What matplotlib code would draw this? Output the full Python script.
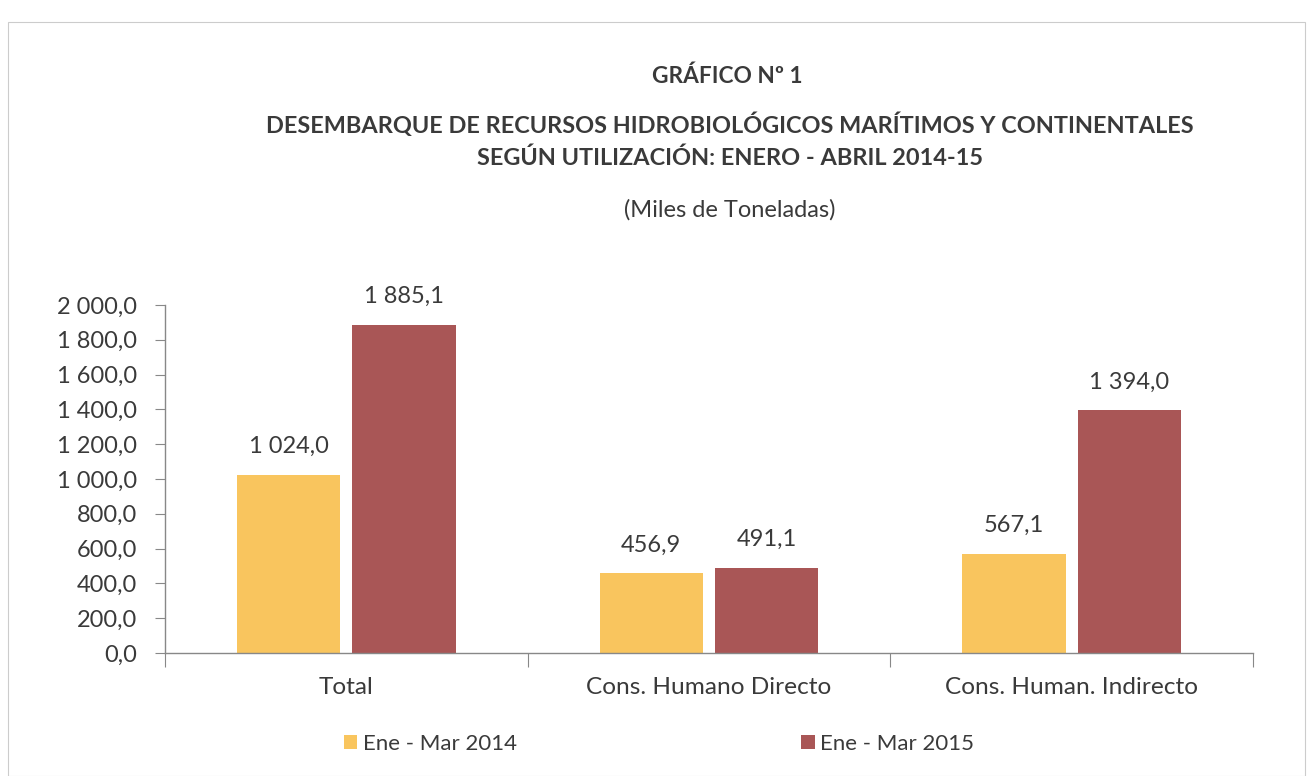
import matplotlib.pyplot as plt
from matplotlib.patches import Rectangle
import numpy as np

plt.rcParams['font.family'] = ['Lato', 'DejaVu Sans']

categories = ["Total", "Cons. Humano Directo", "Cons. Human. Indirecto"]
series_names = ["Ene - Mar 2014", "Ene - Mar 2015"]
values_2014 = [1024.0, 456.9, 567.1]
values_2015 = [1885.1, 491.1, 1394.0]
yticks = [0, 200, 400, 600, 800, 1000, 1200, 1400, 1600, 1800, 2000]

col14 = "#F9C55E"
col15 = "#A95656"
txt = "#3a3a3a"

def fmt(v):
    s = f"{v:,.1f}"
    return s.replace(",", " ").replace(".", ",")

fig = plt.figure(figsize=(13.15, 7.76), dpi=100)
ax = fig.add_axes([165/1315, 1-653/776, (1253-165)/1315, (653-305)/776])

x = np.arange(len(categories))
w = 0.285
off = 0.159
b1 = ax.bar(x - off, values_2014, w, color=col14, label=series_names[0])
b2 = ax.bar(x + off, values_2015, w, color=col15, label=series_names[1])

for bars, vals in ((b1, values_2014), (b2, values_2015)):
    for r, v in zip(bars, vals):
        ax.annotate(fmt(v), (r.get_x() + r.get_width()/2, r.get_height()),
                    xytext=(0, 13), textcoords="offset points",
                    ha="center", va="bottom", fontsize=17, color=txt)

ax.set_xlim(-0.5, 2.5)
ax.set_ylim(0, 2000)
ax.set_yticks(yticks)
ax.set_yticklabels([fmt(v) for v in yticks], fontsize=17, color=txt)
ax.set_xticks([-0.5, 0.5, 1.5, 2.5])
ax.set_xticklabels([])
ax.set_xticks(x, minor=True)
ax.set_xticklabels(categories, minor=True, fontsize=17.6, color=txt)
ax.tick_params(axis='x', which='minor', length=0, pad=17)
ax.tick_params(axis='x', which='major', length=10, color="#888888", direction='out')
ax.tick_params(axis='y', length=7, color="#888888", pad=13)
for s in ("top", "right"):
    ax.spines[s].set_visible(False)
for s in ("left", "bottom"):
    ax.spines[s].set_color("#888888")
    ax.spines[s].set_linewidth(1.0)
ax.spines['left'].set_bounds(0, 2000)

fig.text(0.553, 1-76/776, "GRÁFICO Nº 1", ha="center", va="center",
         fontsize=16.3, fontweight="bold", color=txt)
fig.text(0.555, 1-125/776, "DESEMBARQUE DE RECURSOS HIDROBIOLÓGICOS MARÍTIMOS Y CONTINENTALES",
         ha="center", va="center", fontsize=16.9, fontweight="bold", color=txt)
fig.text(0.555, 1-158/776, "SEGÚN UTILIZACIÓN: ENERO - ABRIL 2014-15",
         ha="center", va="center", fontsize=16.9, fontweight="bold", color=txt)
fig.text(0.555, 1-210/776, "(Miles de Toneladas)", ha="center", va="center",
         fontsize=17, color=txt)

leg = fig.legend(handles=[b1, b2], labels=series_names, ncol=2,
                 loc="center left", bbox_to_anchor=(333/1315, 1-744/776),
                 frameon=False, fontsize=16, handlelength=0.6, handleheight=0.6,
                 handletextpad=0.25, columnspacing=12.8, borderpad=0)
for t in leg.get_texts():
    t.set_color(txt)

fig.patches.append(Rectangle((8/1315, 0), 1297/1315, 1-22/776, transform=fig.transFigure,
                             fill=False, edgecolor="#cccccc", linewidth=0.8))

fig.savefig("out.png", dpi=100)
